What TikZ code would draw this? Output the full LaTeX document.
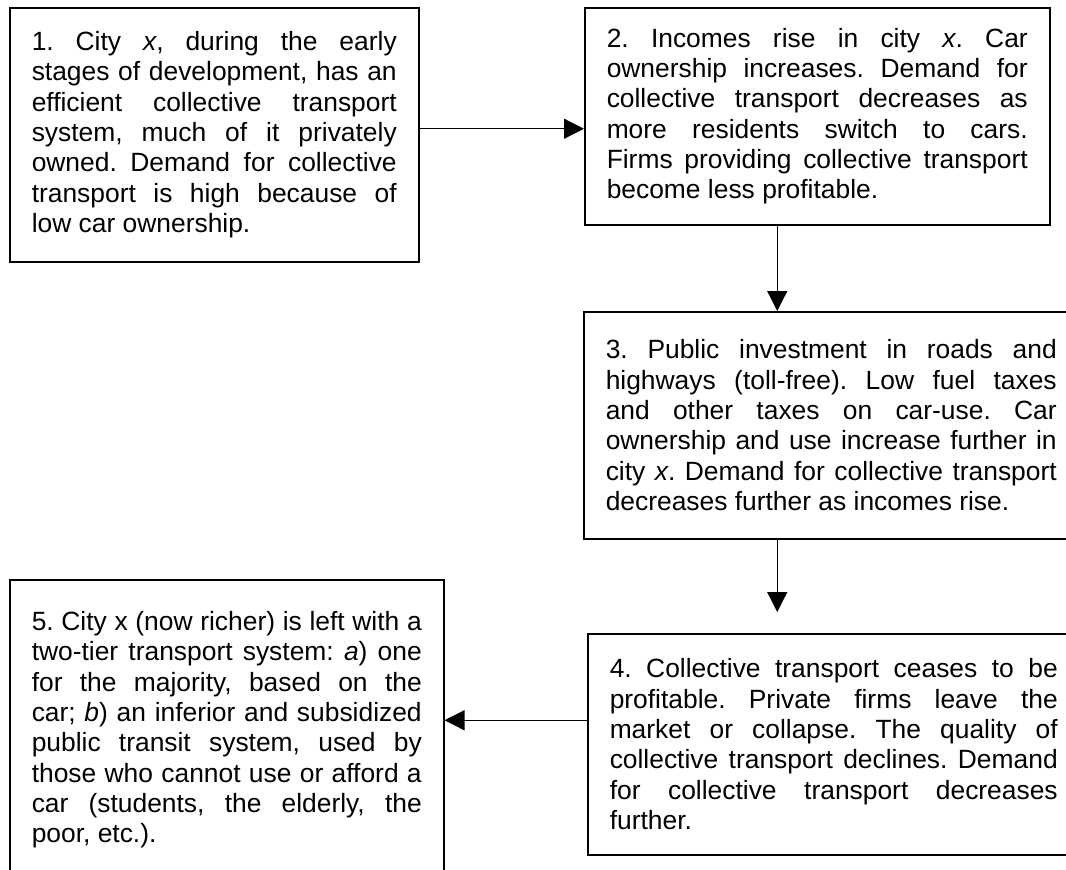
\documentclass[tikz,border=0pt]{standalone}
\usepackage{fontspec}
\setmainfont{Liberation Sans}
\usetikzlibrary{arrows.meta}

\tolerance=10000
\hbadness=10000
\frenchspacing

\begin{document}
\begin{tikzpicture}[x=0.5pt,y=-0.5pt,>={Triangle[length=10pt,width=10pt]},
	stage/.style={draw,line width=0.75pt,anchor=north west,inner xsep=11pt,inner ysep=6pt,
		align=justify,font=\fontsize{13.2}{15.15}\selectfont},
	flow/.style={->,line width=0.6pt}]

\useasboundingbox (0,0) rectangle (1066,869);

\node (st1) at (9,7) [stage,text width=182.5pt,minimum height=127pt]
	{1. City \textit{x}, during the early\linebreak
	stages of development, has an\linebreak
	efficient collective transport\linebreak
	system, much of it privately\linebreak
	owned. Demand for collective\linebreak
	transport is high because of\linebreak
	low car ownership.};

\node (st2) at (584,7) [stage,text width=210.5pt,minimum height=108.5pt]
	{2. Incomes rise in city \textit{x}. Car\linebreak
	ownership increases. Demand for\linebreak
	collective transport decreases as\linebreak
	more residents switch to cars.\linebreak
	Firms providing collective transport\linebreak
	become less profitable.};

\node (st3) at (583,311) [stage,text width=225.5pt,minimum height=113.5pt]
	{3. Public investment in roads and\linebreak
	highways (toll-free). Low fuel taxes\linebreak
	and other taxes on car-use. Car\linebreak
	ownership and use increase further in\linebreak
	city \textit{x}. Demand for collective transport\linebreak
	decreases further as incomes rise.};

\node (st4) at (587,633) [stage,text width=224pt,minimum height=110.5pt]
	{4. Collective transport ceases to be\linebreak
	profitable. Private firms leave the\linebreak
	market or collapse. The quality of\linebreak
	collective transport declines. Demand\linebreak
	for collective transport decreases\linebreak
	further.};

\node (st5) at (9,579) [stage,text width=195pt,minimum height=150pt]
	{5. City x (now richer) is left with a\linebreak
	two-tier transport system: \textit{a}) one\linebreak
	for the majority, based on the\linebreak
	car; \textit{b}) an inferior and subsidized\linebreak
	public transit system, used by\linebreak
	those who cannot use or afford a\linebreak
	car (students, the elderly, the\linebreak
	poor, etc.).};

% arrows between the stages
\coordinate (from1) at ([yshift=3pt]st1.east);
\coordinate (axis) at ([xshift=-20pt]st2.south);
\coordinate (gap4) at ([yshift=10.5pt]st4.north);
\coordinate (from4) at ([yshift=12pt]st4.west);

\draw[flow] (from1) -- (from1 -| st2.west);
\draw[flow] (st2.south -| axis) -- (st3.north -| axis);
\draw[flow] (st3.south -| axis) -- (gap4 -| axis);
\draw[flow] (from4) -- (from4 -| st5.east);

\end{tikzpicture}
\end{document}
